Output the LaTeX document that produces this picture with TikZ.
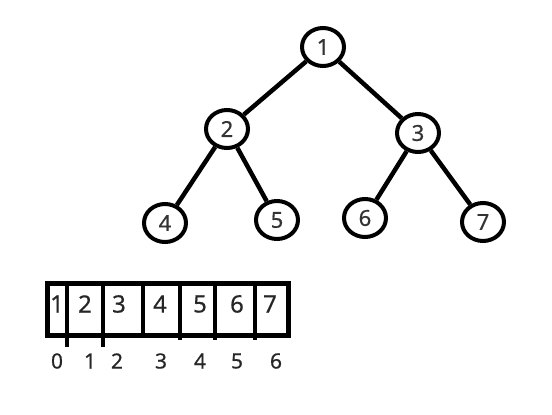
\documentclass[tikz,border=0pt]{standalone}
\usepackage{fontspec}
\setmainfont{Noto Sans}
\newfontfamily\digitfont[FakeBold=0.6]{Noto Sans}
\usetikzlibrary{shapes.geometric}
\begin{document}
\begin{tikzpicture}[x=1pt,y=-1pt,
  tnode/.style={draw,ellipse,line width=4pt,minimum width=42pt,minimum height=38pt,inner sep=0pt,font=\digitfont\fontsize{22}{22}\selectfont,text=black!80},
  edge/.style={line width=4.5pt},
  cellnum/.style={font=\digitfont\fontsize{24}{24}\selectfont,text=black!85},
  idx/.style={font=\digitfont\fontsize{21}{21}\selectfont,text=black!85}]
\useasboundingbox (0,0) rectangle (552,415);
% tree
\node[tnode] (n1) at (323,47) {1};
\node[tnode] (n2) at (227,129) {2};
\node[tnode] (n3) at (418,133) {3};
\node[tnode] (n4) at (165,223) {4};
\node[tnode] (n5) at (277,220) {5};
\node[tnode] (n6) at (365,218) {6};
\node[tnode] (n7) at (483,222) {7};
\draw[edge] (n1) -- (n2);
\draw[edge] (n1) -- (n3);
\draw[edge] (n2) -- (n4);
\draw[edge] (n2) -- (n5);
\draw[edge] (n3) -- (n6);
\draw[edge] (n3) -- (n7);
% array
\draw[line width=5pt] (47,283) rectangle (288,335);
\draw[line width=4pt] (67,283) -- (67,347);
\draw[line width=4pt] (103,283) -- (103,347);
\draw[line width=4pt] (143,283) -- (143,335);
\draw[line width=4pt] (180,283) -- (180,340);
\draw[line width=4pt] (215,283) -- (215,340);
\draw[line width=4pt] (255,283) -- (255,340);
\foreach \x/\t [count=\i] in {57/1,85/2,119/3,160/4,200/5,237/6,270/7}
  \node[cellnum] (c\i) at (\x,304) {\t};
\foreach \x/\t [count=\i] in {57/0,90/1,117/2,161/3,200/4,237/5,276/6}
  \node[idx] (i\i) at (\x,361) {\t};
\end{tikzpicture}
\end{document}
